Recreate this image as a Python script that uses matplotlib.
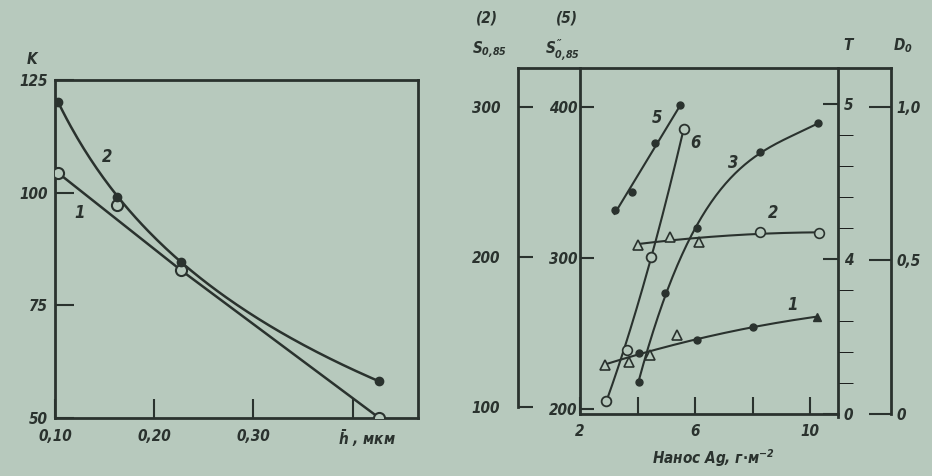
import numpy as np
import matplotlib
matplotlib.use("Agg")
import matplotlib.pyplot as plt

# ---------- left panel: K vs h
h = [0.103, 0.163, 0.227, 0.427]
k_1 = [104.4, 97.3, 82.8, 50.0]     # curve 1, open circles
k_2 = [120.2, 99.1, 84.7, 58.1]     # curve 2, filled circles

# ---------- right panel: Нанос Ag
# curve 1 (D0 axis)
ag1_dot = [4.04, 6.06, 8.02]
d1_dot = [0.198, 0.241, 0.284]
ag1_tri = [2.88, 3.69, 4.44, 5.37]
d1_tri = [0.160, 0.170, 0.192, 0.257]
ag1_circ = [3.64]
d1_circ = [0.208]
ag1_ftri = [10.22]
d1_ftri = [0.317]
# curve 2 (T axis)
ag2_tri = [4.01, 5.14, 6.12]
t2_tri = [4.09, 4.144, 4.112]
ag2_circ = [8.26, 10.30]
t2_circ = [4.171, 4.170]
# curve 3 (T axis)
ag3 = [4.04, 4.96, 6.06, 8.26, 10.28]
t3 = [3.208, 3.779, 4.203, 4.688, 4.875]
# curve 5 (S''0,85 axis)
ag5 = [3.20, 3.81, 4.62, 5.49]
s5 = [331.8, 343.9, 376.0, 401.3]
# curve 6 (S0,85 axis)
ag6 = [2.92, 4.48, 5.60]
s6 = [104.0, 200.2, 285.3]

bg = "#b7c9bd"
ink = "#2a322e"
plt.rcParams['font.family'] = ['DejaVu Sans']
plt.rcParams['font.style'] = 'italic'
plt.rcParams['font.stretch'] = 'condensed'
plt.rcParams['font.weight'] = 'bold'
plt.rcParams['mathtext.default'] = 'it'
plt.rcParams['mathtext.fontset'] = 'custom'
plt.rcParams['mathtext.it'] = 'DejaVu Sans:italic:bold'
plt.rcParams['mathtext.rm'] = 'DejaVu Sans:bold'
fs = 11


def smooth(a, x, y, deg, logx=False, **kw):
    x = np.asarray(x)
    xt = np.log(x) if logx else x
    c = np.polyfit(xt, y, deg)
    xx = np.linspace(x.min(), x.max(), 150)
    a.plot(xx, np.polyval(c, np.log(xx) if logx else xx), color=ink, **kw)


def style(a):
    a.set_facecolor("none")
    for s in a.spines.values():
        s.set_linewidth(2)
        s.set_color(ink)
    a.tick_params(colors=ink, labelsize=fs, width=1.5, direction='in')


fig = plt.figure(figsize=(9.32, 4.76), dpi=100, facecolor=bg)

# ================= left
ax1 = fig.add_axes([55/932, 58/476, 363/932, 338/476])
style(ax1)
ax1.set_xlim(0.10, 0.466)
ax1.set_ylim(50, 125)
ax1.set_xticks([0.10, 0.20, 0.30, 0.40])
ax1.set_xticklabels(["0,10", "0,20", "0,30", ""])
ax1.set_yticks([50, 75, 100, 125])
ax1.set_yticklabels(["50", "75", "100", "125"])
ax1.tick_params(axis='x', length=14, pad=8)
ax1.tick_params(axis='y', length=14, pad=5)

ax1.plot([h[0], h[2], h[3]], [k_1[0], k_1[2], k_1[3]], color=ink, lw=1.8)
smooth(ax1, h, k_2, 2, logx=True, lw=1.8)
ax1.plot(h, k_1, 'o', ms=8, mfc=bg, mec=ink, mew=1.5, zorder=4)
ax1.plot(h, k_2, 'o', ms=6, color=ink, zorder=5)
ax1.text(0.153, 107.9, "2", fontsize=fs + 1, color=ink, ha='center', va='center')
ax1.text(0.125, 95.5, "1", fontsize=fs + 1, color=ink, ha='center', va='center')
ax1.text(-0.063, 1.06, "K", transform=ax1.transAxes, fontsize=fs, color=ink,
         ha='center', va='center')
ax1.text(0.385, 45.6, r"$\bar{h}$ , мкм", fontsize=fs, color=ink,
         ha='left', va='center')

# ================= right
ax = fig.add_axes([580/932, 62/476, 258/932, 346/476])
style(ax)
ax.set_xlim(2, 10.96)
ax.set_ylim(196.7, 425.8)
ax.spines['top'].set_visible(False)
ax.spines['right'].set_visible(False)
ax.set_xticks([2, 4, 6, 8, 10])
ax.set_xticklabels(["2", "", "6", "", "10"])
ax.set_yticks([200, 300, 400])
ax.set_yticklabels(["200", "300", "400"])
ax.tick_params(axis='x', length=12, pad=7)
ax.tick_params(axis='y', length=10, pad=2)
ax.plot([-0.24, 1.2054], [1, 1], transform=ax.transAxes, color=ink, lw=2,
        clip_on=False, solid_capstyle='projecting')

# S0,85 axis (2)
axS = ax.twinx()
style(axS)
axS.set_ylim(95.3, 326)
for s in ['top', 'right', 'bottom']:
    axS.spines[s].set_visible(False)
axS.spines['left'].set_visible(True)
axS.spines['left'].set_position(('axes', -0.24))
axS.spines['left'].set_bounds(100, 326)
axS.yaxis.set_ticks_position('left')
axS.yaxis.set_label_position('left')
axS.set_yticks([100, 200, 300])
axS.set_yticklabels(["100", "200", "300"])
axS.tick_params(axis='y', length=11, pad=13)

# T axis
axT = ax.twinx()
style(axT)
axT.set_ylim(3.0, 5.232)
for s in ['top', 'left', 'bottom']:
    axT.spines[s].set_visible(False)
axT.spines['right'].set_bounds(2.98, 5.232)
axT.set_yticks([3.0, 4, 5])
axT.set_yticklabels(["0", "4", "5"])
axT.set_yticks(np.arange(3.2, 4.9, 0.2), minor=True)
axT.tick_params(axis='y', which='both', length=11, pad=4)

# D0 axis
axD = ax.twinx()
style(axD)
axD.set_ylim(0, 1.127)
for s in ['top', 'left', 'bottom']:
    axD.spines[s].set_visible(False)
axD.spines['right'].set_position(('axes', 1.2054))
axD.set_yticks([0, 0.5, 1.0])
axD.set_yticklabels(["0", "0,5", "1,0"])
axD.tick_params(axis='y', length=16, pad=4)

lw = 1.5
# curve 5
smooth(ax, ag5, s5, 1, lw=lw)
ax.plot(ag5, s5, 'o', ms=5, color=ink)
# curve 6
smooth(axS, ag6, s6, 2, lw=lw)
axS.plot(ag6, s6, 'o', ms=7, mfc=bg, mec=ink, mew=1.3, zorder=4)
# curve 3
smooth(axT, ag3, t3, 3, lw=lw)
axT.plot(ag3, t3, 'o', ms=5, color=ink)
# curve 2
smooth(axT, ag2_tri + ag2_circ, t2_tri + t2_circ, 2, lw=lw)
axT.plot(ag2_tri, t2_tri, '^', ms=7, mfc=bg, mec=ink, mew=1.2, zorder=4)
axT.plot(ag2_circ, t2_circ, 'o', ms=7, mfc=bg, mec=ink, mew=1.2, zorder=4)
# curve 1
smooth(axD, [ag1_tri[0]] + ag1_dot + ag1_ftri, [d1_tri[0]] + d1_dot + d1_ftri, 2, lw=lw)
axD.plot(ag1_tri, d1_tri, '^', ms=7, mfc=bg, mec=ink, mew=1.2, zorder=4)
axD.plot(ag1_circ, d1_circ, 'o', ms=7, mfc=bg, mec=ink, mew=1.2, zorder=4)
axD.plot(ag1_dot, d1_dot, 'o', ms=5, color=ink, zorder=5)
axD.plot(ag1_ftri, d1_ftri, '^', ms=6, color=ink, zorder=5)

for lab, x, y in [("5", 4.68, 392.5), ("6", 6.0, 376), ("3", 7.32, 363),
                  ("2", 8.71, 330), ("1", 9.37, 269)]:
    ax.text(x, y, lab, fontsize=fs + 1, color=ink, ha='center', va='center')


# axis titles
def ftxt(px, py, s, **kw):
    fig.text(px/932, 1 - py/476, s, fontsize=fs, color=ink, ha='center', va='center', **kw)


ftxt(487, 18, "(2)")
ftxt(567, 18, "(5)")
ftxt(490, 50, r"$S_{0{,}85}$")
ftxt(563, 50, r"$S^{\prime\prime}_{0{,}85}$")
ftxt(848, 46, "T")
ftxt(903, 46, r"$D_0$")
ftxt(713, 458, r"Нанос Ag, г$\cdot$м$^{-2}$")

fig.savefig("out.png", dpi=100, facecolor=bg)
